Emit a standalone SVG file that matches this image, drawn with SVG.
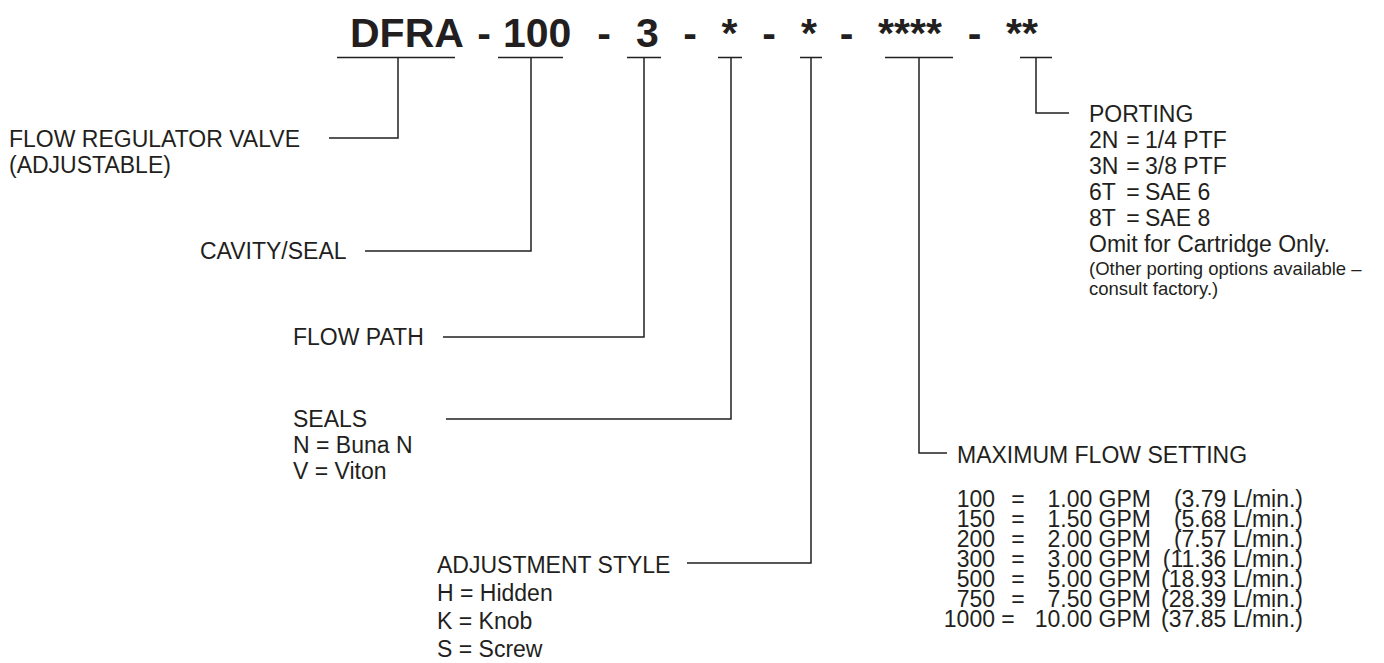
<svg xmlns="http://www.w3.org/2000/svg" width="1384" height="663" viewBox="0 0 1384 663">
<style>
text{font-family:"Liberation Sans",Arial,Helvetica,sans-serif;fill:#231f20}
.t{font-size:41px;font-weight:bold}
.c{text-anchor:middle}
.l{font-size:23px}
.s{font-size:18.5px}
.e{text-anchor:end}
.m{text-anchor:middle}
.ln{fill:none;stroke:#231f20;stroke-width:1.5}
</style>
<rect width="1384" height="663" fill="#fff"/>
<g id="code">
<text class="t" x="350" y="47">DFRA</text>
<text class="t c" x="484" y="47">-</text>
<text class="t" x="503" y="47">100</text>
<text class="t c" x="604" y="47">-</text>
<text class="t c" x="647.5" y="47">3</text>
<text class="t c" x="690" y="47">-</text>
<text class="t c" x="729.5" y="47">*</text>
<text class="t c" x="769" y="47">-</text>
<text class="t c" x="809" y="47">*</text>
<text class="t c" x="846.5" y="47">-</text>
<text class="t c" x="910" y="47">****</text>
<text class="t c" x="974.5" y="47">-</text>
<text class="t c" x="1022" y="47">**</text>
</g>
<g id="connectors">
<path class="ln" d="M337,57.5H455M398,57.5V138H329"/>
<path class="ln" d="M498,57.5H563M531,57.5V251H365"/>
<path class="ln" d="M627,57.5H661M644,57.5V337H443"/>
<path class="ln" d="M718,57.5H742M731,57.5V419H446"/>
<path class="ln" d="M800,57.5H822M811,57.5V563H687"/>
<path class="ln" d="M885,57.5H953M919,57.5V453H947"/>
<path class="ln" d="M1020,57.5H1052M1036,57.5V113H1069"/>
</g>
<g id="valve">
<text class="l" x="9" y="147">FLOW REGULATOR VALVE</text>
<text class="l" x="9" y="173">(ADJUSTABLE)</text>
</g>
<g id="cavity">
<text class="l" x="200" y="259">CAVITY/SEAL</text>
</g>
<g id="flowpath">
<text class="l" x="293" y="345">FLOW PATH</text>
</g>
<g id="seals">
<text class="l" x="293" y="427">SEALS</text>
<text class="l" x="293" y="453">N = Buna N</text>
<text class="l" x="293" y="479">V = Viton</text>
</g>
<g id="adjustment">
<text class="l" x="437" y="573">ADJUSTMENT STYLE</text>
<text class="l" x="437" y="601">H = Hidden</text>
<text class="l" x="437" y="629">K = Knob</text>
<text class="l" x="437" y="657">S = Screw</text>
</g>
<g id="maxflow">
<text class="l" x="957" y="463">MAXIMUM FLOW SETTING</text>
<text class="l e" x="995" y="507">100</text><text class="l m" x="1018" y="507">=</text><text class="l e" x="1151" y="507">1.00 GPM</text><text class="l e" x="1303" y="507">(3.79 L/min.)</text>
<text class="l e" x="995" y="527">150</text><text class="l m" x="1018" y="527">=</text><text class="l e" x="1151" y="527">1.50 GPM</text><text class="l e" x="1303" y="527">(5.68 L/min.)</text>
<text class="l e" x="995" y="547">200</text><text class="l m" x="1018" y="547">=</text><text class="l e" x="1151" y="547">2.00 GPM</text><text class="l e" x="1303" y="547">(7.57 L/min.)</text>
<text class="l e" x="995" y="567">300</text><text class="l m" x="1018" y="567">=</text><text class="l e" x="1151" y="567">3.00 GPM</text><text class="l e" x="1303" y="567">(11.36 L/min.)</text>
<text class="l e" x="995" y="587">500</text><text class="l m" x="1018" y="587">=</text><text class="l e" x="1151" y="587">5.00 GPM</text><text class="l e" x="1303" y="587">(18.93 L/min.)</text>
<text class="l e" x="995" y="607">750</text><text class="l m" x="1018" y="607">=</text><text class="l e" x="1151" y="607">7.50 GPM</text><text class="l e" x="1303" y="607">(28.39 L/min.)</text>
<text class="l e" x="995" y="627">1000</text><text class="l m" x="1008" y="627">=</text><text class="l e" x="1151" y="627">10.00 GPM</text><text class="l e" x="1303" y="627">(37.85 L/min.)</text>
</g>
<g id="porting">
<text class="l" x="1089" y="122">PORTING</text>
<text class="l" x="1089" y="148">2N</text><text class="l m" x="1133" y="148">=</text><text class="l" x="1145" y="148">1/4 PTF</text>
<text class="l" x="1089" y="174">3N</text><text class="l m" x="1133" y="174">=</text><text class="l" x="1145" y="174">3/8 PTF</text>
<text class="l" x="1089" y="200">6T</text><text class="l m" x="1133" y="200">=</text><text class="l" x="1145" y="200">SAE 6</text>
<text class="l" x="1089" y="226">8T</text><text class="l m" x="1133" y="226">=</text><text class="l" x="1145" y="226">SAE 8</text>
<text class="l" x="1089" y="252">Omit for Cartridge Only.</text>
<text class="s" x="1089" y="275">(Other porting options available –</text>
<text class="s" x="1089" y="295">consult factory.)</text>
</g>
</svg>
